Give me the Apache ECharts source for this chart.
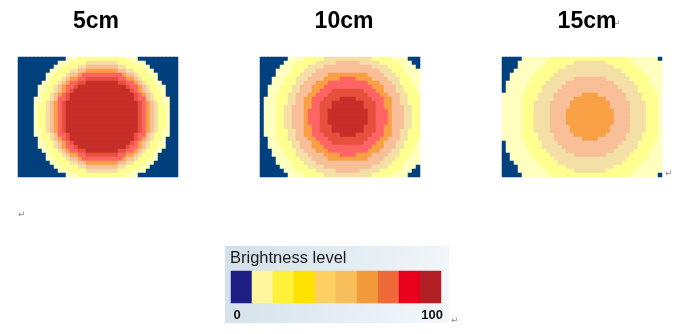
<!DOCTYPE html>
<html><head><meta charset="utf-8">
<script src="https://cdn.jsdelivr.net/npm/echarts@6/dist/echarts.min.js"></script>
<style>html,body{margin:0;padding:0;background:#fff}#c{width:684px;height:334px}</style>
</head><body><div id="c"></div>
<script>
// ---- data: brightness level per cell (0 = background) ----
const titles = ['5cm', '10cm', '15cm'];

const panel5cm = [
"0000000000001112222222222221110000000000",
"0000000000111222233333333222211100000000",
"0000000001122223344444444332222110000000",
"0000000011222334455555555443322211000000",
"0000000112223445666666666654432221100000",
"0000000122234556677777777665543222100000",
"0000001122345667788888888776654322110000",
"0000011223456678888888888887665432211000",
"0000011223456788888888888888765432211000",
"0000012234567888888888888888876543221000",
"0000112234667888888888888888876643221100",
"0000112345678888888888888888887654321100",
"0000122345678888888888888888887654322100",
"0000122345678888888888888888887654322100",
"0000122345678888888888888888887654322100",
"0000122345678888888888888888887654322100",
"0000122345678888888888888888887654322100",
"0000122345678888888888888888887654322100",
"0000112345678888888888888888887654321100",
"0000112234667888888888888888876643221100",
"0000012234567888888888888888876543221000",
"0000011223456788888888888888765432211000",
"0000011223456678888888888887665432211000",
"0000001122345667788888888776654322110000",
"0000000122234556677777777665543222100000",
"0000000112223445666666666654432221100000",
"0000000011222334455555555443322211000000",
"0000000001122223344444444332222110000000",
"0000000000111222233333333222211100000000",
"0000000000001112222222222221110000000000"
];

const panel10cm = [
"0000000111122222333333333333222221111000",
"0000001112222233333444444333332222211100",
"0000011122223333444444444444333322221110",
"0000111122233344444444444444443332221111",
"0000111222333444455555555554444333222111",
"0001112223334444555566665555444433322211",
"0001112223344455566666666665554443322211",
"0011122233444555666666666666555444332221",
"0011122233444556667777777766655444332221",
"0011222334445566677777777776665544433222",
"0111222334455666777788887777666554433222",
"0111222334455667778888888877766554433222",
"0111223344455667778888888877766554443322",
"0111223344456667788888888887766654443322",
"0111223344456667788888888887766654443322",
"0111223344456667788888888887766654443322",
"0111223344456667788888888887766654443322",
"0111223344455667778888888877766554443322",
"0111222334455667778888888877766554433222",
"0111222334455666777788887777666554433222",
"0011222334445566677777777776665544433222",
"0011122233444556667777777766655444332221",
"0011122233444555666666666666555444332221",
"0001112223344455566666666665554443322211",
"0001112223334444555566665555444433322211",
"0000111222333444455555555554444333222111",
"0000111122233344444444444444443332221111",
"0000011122223333444444444444333322221110",
"0000001112222233333444444333332222211100",
"0000000111122222333333333333222221111000"
];

const panel15cm = [
"0000011111112222222222222222222211111110",
"0000111111122222223333333322222221111111",
"0000111111222222333333333333222222111111",
"0001111112222233333333333333332222211111",
"0011111122222333333333333333333222221111",
"0011111222223333334444444433333322222111",
"0111111222233333444444444444333332222111",
"0111112222333334444444444444433333222211",
"0111112222333344444444444444443333222211",
"1111122223333444444455554444444333322221",
"1111122223333444445555555544444333322221",
"1111122233334444455555555554444433332221",
"1111122233334444455555555554444433332221",
"1111122233334444555555555555444433332221",
"1111122233334444555555555555444433332221",
"1111122233334444555555555555444433332221",
"1111122233334444555555555555444433332221",
"1111122233334444455555555554444433332221",
"1111122233334444455555555554444433332221",
"1111122223333444445555555544444333322221",
"1111122223333444444455554444444333322221",
"0111112222333344444444444444443333222211",
"0111112222333334444444444444433333222211",
"0111111222233333444444444444333332222111",
"0011111222223333334444444433333322222111",
"0011111122222333333333333333333222221111",
"0001111112222233333333333333332222211111",
"0000111111222222333333333333222222111111",
"0000111111122222223333333322222221111111",
"0000011111112222222222222222222211111110"
];

const legendTitle = 'Brightness level';
const legendLevels = [0, 1, 2, 3, 4, 5, 6, 7, 8, 9];
const legendTicks = ['0', '100'];

// palettes
const heatColors = ['#00407E', '#FFFFC0', '#FFFF90', '#F4DFA6', '#F8BF98', '#F9A046', '#FE6464', '#E6503C', '#C62E28'];
const legendColors = ['#1E1F84', '#FFF59C', '#FFF03A', '#FFE100', '#FDD062', '#F8BE5C', '#F39B3A', '#EE6A38', '#E8001E', '#B21F24'];

// ---- build chart ----
const panels = [panel5cm, panel10cm, panel15cm];
const errs = [];
panels.forEach((p, pi) => p.forEach((row, ri) => { if (row.length !== 40) errs.push('P' + pi + 'R' + ri + ':' + row.length); }));
panels.forEach((p, pi) => { if (p.length !== 30) errs.push('P' + pi + ' rows ' + p.length); });

const colCats = panels[0][0].split('').map((_, i) => i);
const rowCats = panels[0].map((_, i) => i);

const gridPos = [
  { left: 18, top: 57, width: 160, height: 120 },
  { left: 260, top: 57, width: 160, height: 120 },
  { left: 502, top: 57, width: 160, height: 120 },
  { left: 231, top: 271, width: 210, height: 32 }
];

const xAxes = [], yAxes = [], series = [];
panels.forEach((p, i) => {
  xAxes.push({ type: 'category', gridIndex: i, data: colCats, show: false });
  yAxes.push({ type: 'category', gridIndex: i, data: rowCats, inverse: true, show: false });
  const data = [];
  p.forEach((row, r) => row.split('').forEach((ch, c) => data.push([c, r, +ch])));
  series.push({ type: 'heatmap', xAxisIndex: i, yAxisIndex: i, data, itemStyle: { borderWidth: 0 }, emphasis: { disabled: true }, silent: true, progressive: 0 });
});
xAxes.push({ type: 'category', gridIndex: 3, data: legendLevels, show: false });
yAxes.push({ type: 'category', gridIndex: 3, data: [0], show: false });
series.push({ type: 'heatmap', xAxisIndex: 3, yAxisIndex: 3, data: legendLevels.map(v => [v, 0, v]), itemStyle: { borderWidth: 0 }, emphasis: { disabled: true }, silent: true, z: 5 });

const titleX = [96, 344, 587];
const elements = [
  { type: 'rect', z: -10, shape: { x: 225, y: 246, width: 224, height: 77 },
    style: { fill: new echarts.graphic.LinearGradient(0, 0, 1, 1, [
      { offset: 0, color: '#D3E0EA' }, { offset: 0.55, color: '#E4EDF3' }, { offset: 1, color: '#F5F8FB' }]) } },
  { type: 'text', x: 230, y: 258, style: { text: legendTitle, font: '16.5px "Liberation Sans"', fill: '#1a1a1a', verticalAlign: 'middle', align: 'left' } },
  { type: 'text', x: 237, y: 315, style: { text: legendTicks[0], font: 'bold 13px "Liberation Sans"', fill: '#111', verticalAlign: 'middle', align: 'center' } },
  { type: 'text', x: 443, y: 315, style: { text: legendTicks[1], font: 'bold 13px "Liberation Sans"', fill: '#111', verticalAlign: 'middle', align: 'right' } },
  { type: 'text', x: 18, y: 215, style: { text: '↵', font: '9px "DejaVu Sans"', fill: '#8a8a8a', verticalAlign: 'middle' } },
  { type: 'text', x: 613, y: 24, style: { text: '↵', font: '9px "DejaVu Sans"', fill: '#8a8a8a', verticalAlign: 'middle' } },
  { type: 'text', x: 665, y: 174, style: { text: '↵', font: '9px "DejaVu Sans"', fill: '#8a8a8a', verticalAlign: 'middle' } },
  { type: 'text', x: 451, y: 321, style: { text: '↵', font: '9px "DejaVu Sans"', fill: '#8a8a8a', verticalAlign: 'middle' } }
];
titles.forEach((t, i) => elements.push({ type: 'text', x: titleX[i], y: 22,
  style: { text: t, font: 'bold 23px "Liberation Sans"', fill: '#000', align: 'center', verticalAlign: 'middle' } }));
if (errs.length) elements.push({ type: 'text', x: 5, y: 200, style: { text: errs.join(' '), font: '12px sans-serif', fill: 'red' } });

const chart = echarts.init(document.getElementById('c'), null, { renderer: 'canvas' });
chart.setOption({
  animation: false,
  backgroundColor: '#fff',
  grid: gridPos,
  xAxis: xAxes,
  yAxis: yAxes,
  visualMap: [
    { type: 'piecewise', show: false, seriesIndex: [0, 1, 2], dimension: 2, pieces: heatColors.map((c, i) => ({ value: i, color: c })) },
    { type: 'piecewise', show: false, seriesIndex: 3, dimension: 2, pieces: legendColors.map((c, i) => ({ value: i, color: c })) }
  ],
  series,
  graphic: { elements }
});
</script></body></html>
